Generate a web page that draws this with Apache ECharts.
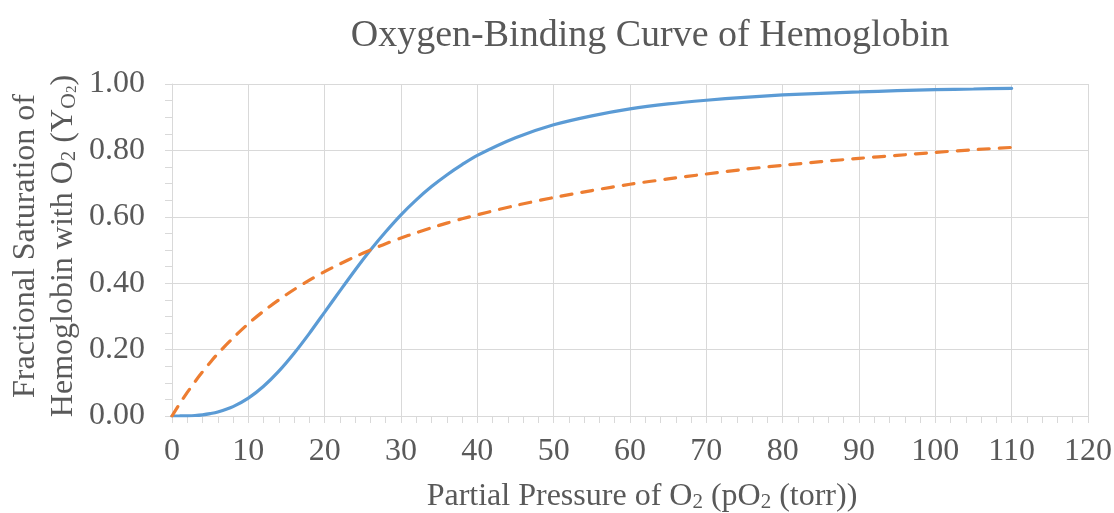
<!DOCTYPE html>
<html>
<head>
<meta charset="utf-8">
<script src="https://cdn.jsdelivr.net/npm/echarts@6/dist/echarts.min.js"></script>
<style>
html,body{margin:0;padding:0;background:#fff;}
#chart{width:1114px;height:513px;}
</style>
</head>
<body>
<div id="chart"></div>
<script>
// Partial pressure of O2 (torr)
const pO2 = [0,1,2,3,4,5,6,8,10,12,14,16,18,20,22,24,26,28,30,32,34,36,38,40,45,50,55,60,65,70,75,80,85,90,95,100,105,110];
// Solid blue curve (hemoglobin, sigmoidal)
const hemoglobin = [0,0.0001,0.0005,0.0015,0.0036,0.0071,0.0121,0.0283,0.0538,0.0895,0.135,0.189,0.249,0.313,0.377,0.440,0.500,0.555,0.606,0.651,0.691,0.726,0.757,0.785,0.838,0.877,0.904,0.925,0.940,0.951,0.960,0.967,0.972,0.976,0.980,0.983,0.985,0.987];
// Dashed orange curve (hyperbolic)
const hyperbolic = [0,0.037,0.071,0.103,0.133,0.161,0.188,0.235,0.278,0.316,0.350,0.381,0.409,0.435,0.458,0.480,0.500,0.519,0.536,0.552,0.567,0.581,0.594,0.606,0.634,0.658,0.679,0.698,0.714,0.729,0.743,0.755,0.766,0.776,0.785,0.794,0.802,0.809];

const titleText = 'Oxygen-Binding Curve of Hemoglobin';
const FONT = '"Liberation Serif", "Times New Roman", serif';
const GRAY = '#595959';
const LINEC = '#d9d9d9';

const chart = echarts.init(document.getElementById('chart'), null, {renderer:'canvas'});
const pair = (ys) => pO2.map((x, i) => [x, ys[i]]);

chart.setOption({
  animation: false,
  backgroundColor: '#fff',
  title: {
    text: titleText,
    left: 645, textAlign: 'center', top: 12,
    textStyle: {fontFamily: FONT, fontSize: 38, fontWeight: 'normal', color: GRAY}
  },
  grid: {left: 172, right: 26, top: 84, bottom: 97, containLabel: false, outerBoundsMode: 'none'},
  xAxis: {
    type: 'value', min: 0, max: 120, interval: 10,
    name: '{n|Partial Pressure of O}{s|2}{n| (pO}{s|2}{n| (torr))}',
    nameLocation: 'middle', nameGap: 59, nameMoveOverlap: false,
    nameTextStyle: {
      fontFamily: FONT, color: GRAY, padding: [0, 0, 0, 24],
      rich: {
        n: {fontFamily: FONT, fontSize: 32, color: GRAY, lineHeight: 38, verticalAlign: 'bottom'},
        s: {fontFamily: FONT, fontSize: 21, color: GRAY, lineHeight: 21, verticalAlign: 'bottom'}
      }
    },
    axisLine: {show: true, lineStyle: {color: LINEC, width: 1}},
    axisTick: {show: true, length: 7, lineStyle: {color: LINEC}},
    minorTick: {show: true, splitNumber: 5, length: 7, lineStyle: {color: LINEC}},
    splitLine: {show: true, lineStyle: {color: LINEC, width: 1}},
    axisLabel: {fontFamily: FONT, fontSize: 32, color: GRAY, margin: 20}
  },
  yAxis: {
    type: 'value', min: 0, max: 1, interval: 0.2,
    name: '{n|Fractional Saturation of}\n{n|Hemoglobin with O}{s|2}{n| (Y}{s2|O}{ss|2}{n|)}',
    nameLocation: 'middle', nameGap: 92, nameRotate: 90, nameMoveOverlap: false,
    nameTextStyle: {
      fontFamily: FONT, color: GRAY, align: 'center', padding: [0, 0, 0, 8],
      rich: {
        n: {fontFamily: FONT, fontSize: 32, color: GRAY, lineHeight: 38, verticalAlign: 'bottom'},
        s: {fontFamily: FONT, fontSize: 21, color: GRAY, lineHeight: 22, verticalAlign: 'bottom'},
        s2: {fontFamily: FONT, fontSize: 22, color: GRAY, lineHeight: 22, verticalAlign: 'bottom'},
        ss: {fontFamily: FONT, fontSize: 15, color: GRAY, lineHeight: 8, verticalAlign: 'bottom'}
      }
    },
    axisLine: {show: true, lineStyle: {color: LINEC, width: 1}},
    axisTick: {show: true, length: 7, lineStyle: {color: LINEC}},
    minorTick: {show: true, splitNumber: 4, length: 7, lineStyle: {color: LINEC}},
    splitLine: {show: true, lineStyle: {color: LINEC, width: 1}},
    axisLabel: {fontFamily: FONT, fontSize: 32, color: GRAY, margin: 27, formatter: v => v.toFixed(2)}
  },
  series: [
    {
      type: 'line', data: pair(hemoglobin), smooth: 0.3, showSymbol: false,
      lineStyle: {color: '#5B9BD5', width: 3.2, cap: 'round'}, z: 3
    },
    {
      type: 'line', data: pair(hyperbolic), smooth: 0.3, showSymbol: false,
      lineStyle: {color: '#ED7D31', width: 3.2, type: [11, 10], cap: 'round'}, z: 4
    }
  ]
});
</script>
</body>
</html>
